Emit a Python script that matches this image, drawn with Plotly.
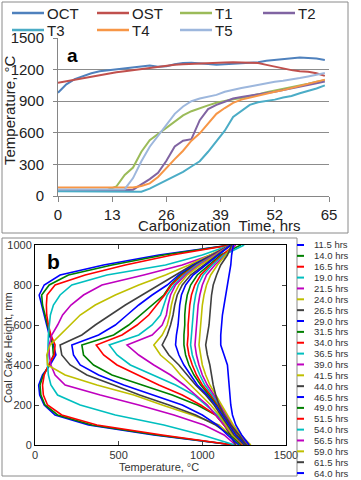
import plotly.graph_objects as go

W, H = 361, 480

# ---------------- Panel a data ----------------
time_hrs = [0, 2, 4, 6, 8, 10, 12, 14, 16, 18, 20, 22, 24, 26, 28, 30, 32,
            34, 36, 38, 40, 42, 44, 46, 48, 50, 52, 54, 56, 58, 60, 62, 64]
oct_temp = [980, 1060, 1110, 1140, 1165, 1185, 1195, 1205, 1215, 1225, 1235, 1240, 1228, 1232, 1250, 1262, 1265,
            1262, 1252, 1245, 1250, 1255, 1258, 1262, 1270, 1285, 1292, 1300, 1306, 1314, 1310, 1305, 1292]
ost_temp = [1075, 1090, 1105, 1120, 1135, 1150, 1165, 1175, 1185, 1195, 1210, 1220, 1230, 1240, 1245, 1250, 1255,
            1258, 1262, 1265, 1268, 1270, 1268, 1265, 1262, 1245, 1228, 1208, 1195, 1185, 1180, 1165, 1140]
t1_temp = [55, 55, 55, 55, 55, 55, 60, 90, 200, 270, 420, 530, 590, 645, 710, 765, 805,
           835, 860, 885, 905, 918, 930, 945, 965, 985, 1000, 1015, 1030, 1050, 1065, 1085, 1100]
t2_temp = [52, 52, 52, 52, 52, 52, 52, 52, 55, 60, 110, 160, 220, 335, 470, 525, 540,
           720, 825, 865, 895, 925, 940, 950, 965, 977, 990, 1005, 1020, 1040, 1055, 1070, 1088]
t3_temp = [45, 45, 45, 45, 45, 45, 45, 45, 45, 45, 40, 70, 110, 150, 185, 230, 280,
           330, 420, 515, 620, 750, 810, 865, 890, 900, 915, 935, 950, 975, 995, 1020, 1050]
t4_temp = [80, 80, 80, 80, 80, 80, 80, 80, 80, 80, 95, 120, 180, 270, 350, 430, 525,
           595, 690, 780, 835, 885, 915, 935, 955, 975, 990, 1005, 1025, 1040, 1060, 1080, 1105]
t5_temp = [62, 62, 62, 62, 62, 62, 62, 62, 65, 170, 330, 468, 575, 680, 780, 850, 900,
           925, 940, 960, 990, 1010, 1025, 1040, 1055, 1073, 1085, 1095, 1105, 1120, 1135, 1150, 1168]

series_a_names = ["OCT", "OST", "T1", "T2", "T3", "T4", "T5"]
series_a_colors = ["#4F81BD", "#C0504D", "#9BBB59", "#8064A2", "#4BACC6", "#F79646", "#9DB7DD"]
series_a_values = [oct_temp, ost_temp, t1_temp, t2_temp, t3_temp, t4_temp, t5_temp]
time_ticks = [0, 13, 26, 39, 52, 65]
temp_ticks_a = [0, 300, 600, 900, 1200, 1500]

# ---------------- Panel b data ----------------
height_mm = [0, 50, 100, 150, 200, 250, 300, 350, 400, 450, 500,
             550, 600, 650, 700, 750, 800, 850, 900, 950, 1000]
p_11_5 = [1190, 710, 320, 120, 55, 28, 22, 45, 90, 125, 110, 85, 70, 55, 38, 25, 55, 150, 410, 740, 1170]
p_14_0 = [1190, 730, 340, 135, 60, 35, 30, 50, 85, 110, 105, 90, 75, 60, 45, 40, 85, 200, 460, 770, 1170]
p_16_5 = [1185, 760, 370, 160, 75, 50, 45, 55, 80, 115, 120, 95, 80, 70, 68, 72, 120, 300, 540, 820, 1170]
p_19_0 = [1195, 1000, 770, 480, 270, 135, 95, 80, 75, 75, 78, 80, 84, 92, 110, 150, 220, 430, 780, 1000, 1170]
p_21_5 = [1200, 1130, 1010, 830, 620, 390, 180, 120, 95, 85, 85, 100, 135, 165, 215, 290, 400, 650, 880, 1050, 1170]
p_24_0 = [1210, 1170, 1100, 940, 760, 590, 370, 180, 75, 70, 90, 150, 210, 270, 360, 480, 620, 780, 920, 1050, 1170]
p_26_5 = [1200, 1165, 1080, 960, 800, 625, 470, 310, 210, 160, 150, 280, 360, 450, 540, 640, 740, 840, 940, 1060, 1170]
p_29_0 = [1220, 1150, 1090, 1000, 880, 700, 530, 380, 270, 230, 220, 380, 480, 550, 620, 700, 790, 860, 950, 1060, 1170]
p_31_5 = [1230, 1170, 1130, 1080, 970, 820, 640, 460, 350, 290, 280, 470, 560, 630, 700, 770, 810, 870, 960, 1070, 1170]
p_34_0 = [1240, 1180, 1130, 1080, 990, 880, 740, 620, 490, 410, 366, 520, 610, 680, 730, 775, 815, 880, 965, 1065, 1170]
p_36_5 = [1250, 1180, 1140, 1090, 1020, 950, 840, 700, 570, 490, 444, 620, 700, 750, 770, 790, 830, 890, 970, 1075, 1170]
p_39_0 = [1250, 1180, 1130, 1080, 1030, 960, 890, 810, 710, 620, 550, 700, 760, 785, 795, 810, 840, 900, 980, 1080, 1170]
p_41_5 = [1250, 1180, 1140, 1100, 1050, 990, 930, 870, 820, 750, 710, 760, 790, 805, 815, 830, 860, 910, 990, 1085, 1170]
p_44_0 = [1250, 1190, 1150, 1110, 1070, 1020, 960, 910, 860, 800, 760, 790, 810, 825, 835, 850, 880, 930, 1010, 1090, 1170]
p_46_5 = [1260, 1200, 1160, 1120, 1080, 1030, 970, 930, 890, 860, 840, 845, 855, 860, 865, 875, 900, 945, 1020, 1100, 1170]
p_49_0 = [1270, 1210, 1170, 1130, 1090, 1040, 990, 950, 920, 900, 890, 890, 895, 895, 900, 910, 930, 970, 1040, 1110, 1230]
p_51_5 = [1275, 1215, 1170, 1135, 1095, 1050, 1000, 965, 940, 920, 910, 915, 915, 920, 925, 935, 955, 990, 1050, 1120, 1190]
p_54_0 = [1280, 1220, 1175, 1140, 1100, 1060, 1015, 985, 960, 940, 930, 935, 940, 945, 950, 960, 975, 1005, 1060, 1130, 1250]
p_56_5 = [1285, 1225, 1180, 1145, 1110, 1070, 1030, 1000, 980, 965, 956, 960, 965, 970, 975, 985, 1000, 1025, 1075, 1140, 1200]
p_59_0 = [1290, 1230, 1185, 1150, 1120, 1080, 1045, 1020, 1000, 990, 980, 985, 990, 995, 1000, 1010, 1025, 1050, 1090, 1140, 1180]
p_61_5 = [1260, 1220, 1170, 1130, 1100, 1080, 1065, 1055, 1045, 1030, 1020, 1030, 1040, 1045, 1050, 1055, 1065, 1085, 1110, 1150, 1175]
p_64_0 = [1280, 1235, 1200, 1180, 1170, 1165, 1160, 1155, 1150, 1130, 1110, 1110, 1115, 1120, 1130, 1140, 1150, 1160, 1170, 1175, 1185]

profile_labels = ["11.5 hrs", "14.0 hrs", "16.5 hrs", "19.0 hrs", "21.5 hrs", "24.0 hrs", "26.5 hrs",
                  "29.0 hrs", "31.5 hrs", "34.0 hrs", "36.5 hrs", "39.0 hrs", "41.5 hrs", "44.0 hrs",
                  "46.5 hrs", "49.0 hrs", "51.5 hrs", "54.0 hrs", "56.5 hrs", "59.0 hrs", "61.5 hrs", "64.0 hrs"]
profile_values = [p_11_5, p_14_0, p_16_5, p_19_0, p_21_5, p_24_0, p_26_5, p_29_0, p_31_5, p_34_0, p_36_5,
                  p_39_0, p_41_5, p_44_0, p_46_5, p_49_0, p_51_5, p_54_0, p_56_5, p_59_0, p_61_5, p_64_0]
matlab_colors = ["#0000FF", "#008000", "#FF0000", "#00BFBF", "#BF00BF", "#BFBF00", "#404040"]
temp_ticks_b = [0, 500, 1000, 1500]
height_ticks = [0, 200, 400, 600, 800, 1000]

fig = go.Figure()

for name, color, vals in zip(series_a_names, series_a_colors, series_a_values):
    fig.add_trace(go.Scatter(x=time_hrs, y=vals, mode="lines", name=name,
                             line=dict(color=color, width=2), xaxis="x", yaxis="y",
                             showlegend=False))

for i, (lab, vals) in enumerate(zip(profile_labels, profile_values)):
    fig.add_trace(go.Scatter(x=vals, y=height_mm, mode="lines", name=lab,
                             line=dict(color=matlab_colors[i % 7], width=1.6),
                             xaxis="x2", yaxis="y2", showlegend=False))


def px_x(v):
    return v / W


def px_y(v):
    return 1 - v / H


font_a = "Liberation Sans, Arial, sans-serif"


def label(text, x, y, size, color="#222", angle=0, anchor="center"):
    return dict(text=text, x=px_x(x), y=px_y(y), xref="paper", yref="paper",
                xanchor=anchor, yanchor="middle", showarrow=False, borderpad=0,
                textangle=angle, font=dict(size=size, color=color, family=font_a))


annotations = [
    label("<b>a</b>", 72, 55, 19, "#000"),
    label("<b>b</b>", 53, 261, 21, "#000"),
    label("Carbonization  Time, hrs", 220, 225, 15),
    label("Temperature, °C", 10, 110, 15, angle=-90),
    label("Coal Cake Height, mm", 8, 348, 11, "#333", angle=-90),
    label("Temperature, °C", 159, 467, 11, "#333"),
]

shapes = [
    dict(type="rect", xref="paper", yref="paper", x0=px_x(2), x1=px_x(348), y0=px_y(233), y1=px_y(2),
         line=dict(color="#8a8a8a", width=1)),
    dict(type="rect", xref="paper", yref="paper", x0=px_x(2), x1=px_x(297), y0=px_y(476), y1=px_y(238),
         line=dict(color="#8a8a8a", width=1)),
]

# legend for panel a (two rows, four columns)
legend_a_cols = [12, 97, 180, 263]
legend_a_rows = [13, 30]
for i, (name, color) in enumerate(zip(series_a_names, series_a_colors)):
    lx = legend_a_cols[i % 4]
    ly = legend_a_rows[i // 4]
    shapes.append(dict(type="line", xref="paper", yref="paper", x0=px_x(lx), x1=px_x(lx + 32),
                       y0=px_y(ly), y1=px_y(ly), line=dict(color=color, width=2.5)))
    annotations.append(label(name, lx + 34, ly, 15, anchor="left"))

# compact legend for panel b
for i, lab in enumerate(profile_labels):
    yy = 245 + i * 10.86
    shapes.append(dict(type="line", xref="paper", yref="paper", x0=px_x(297), x1=px_x(304),
                       y0=px_y(yy), y1=px_y(yy), line=dict(color=matlab_colors[i % 7], width=2)))
    annotations.append(label(lab, 313, yy, 9.5, "#333", anchor="left"))

fig.update_layout(
    width=W, height=H, margin=dict(l=0, r=0, t=0, b=0, autoexpand=False),
    paper_bgcolor="white", plot_bgcolor="white",
    font=dict(family=font_a),
    showlegend=False,
    xaxis=dict(domain=[px_x(58), px_x(329)], range=[0, 65], tickvals=time_ticks,
               ticks="outside", ticklen=5, tickcolor="#868686", showline=True, linecolor="#868686",
               showgrid=False, zeroline=False, tickfont=dict(size=15, color="#222"), anchor="y"),
    yaxis=dict(domain=[px_y(196), px_y(38)], range=[0, 1500], tickvals=temp_ticks_a,
               ticks="outside", ticklen=4, tickcolor="#868686", showline=True, linecolor="#868686",
               showgrid=True, gridcolor="#8c8c8c", zeroline=False, ticklabelstandoff=6,
               tickfont=dict(size=15, color="#222"), anchor="x"),
    xaxis2=dict(domain=[px_x(35), px_x(286)], range=[0, 1500], tickvals=temp_ticks_b,
                ticks="inside", ticklen=4, showline=True, linecolor="#000", mirror="ticks",
                showgrid=False, zeroline=False, tickfont=dict(size=11, color="#333"), anchor="y2"),
    yaxis2=dict(domain=[px_y(445), px_y(245)], range=[0, 1000], tickvals=height_ticks,
                ticks="inside", ticklen=4, showline=True, linecolor="#000", mirror="ticks",
                showgrid=False, zeroline=False, tickfont=dict(size=11, color="#333"), anchor="x2"),
    annotations=annotations, shapes=shapes,
)

fig.write_html("out.html", config={"displayModeBar": False},
               post_script="document.body.style.margin='0';document.body.style.padding='0';")
